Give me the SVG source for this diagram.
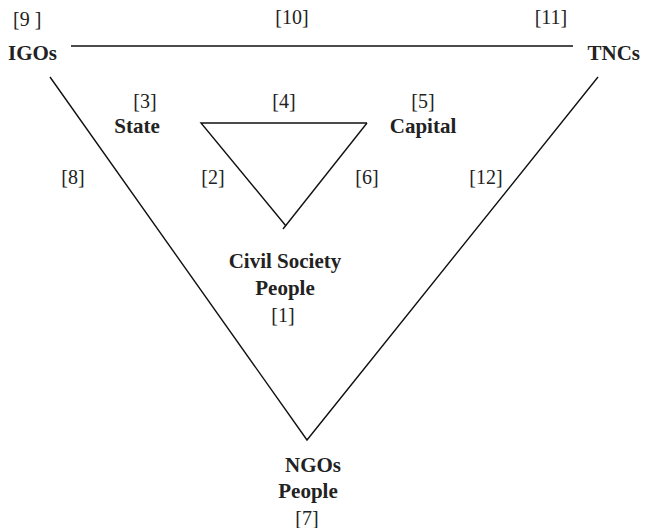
<svg xmlns="http://www.w3.org/2000/svg" width="645" height="528" viewBox="0 0 645 528">
<style>
.b{font-family:"Liberation Serif","Times New Roman",serif;font-weight:bold;font-size:21px;fill:#222}
.n{font-family:"Liberation Serif","Times New Roman",serif;font-size:20px;fill:#222}
.ln{stroke:#111;stroke-width:1.4;fill:none}
</style>
<rect width="645" height="528" fill="#fff"/>
<g id="connectors">
<line class="ln" x1="71" y1="46" x2="573" y2="46"/>
<polyline class="ln" points="50,77 307,440 598,77"/>
<polyline class="ln" points="367,123 201,123 286,226"/>
<line class="ln" x1="367" y1="123" x2="283" y2="229"/>
</g>
<g id="labels">
<text class="n" x="292" y="24" text-anchor="middle">[10]</text>
<text class="n" x="73" y="184" text-anchor="middle">[8]</text>
<text class="n" x="213" y="184" text-anchor="middle">[2]</text>
<text class="n" x="284" y="108" text-anchor="middle">[4]</text>
<text class="n" x="367" y="184" text-anchor="middle">[6]</text>
<text class="n" x="486" y="184" text-anchor="middle">[12]</text>
</g>
<g id="igos">
<text class="n" x="13" y="26">[9 ]</text>
<text class="b" x="8" y="60">IGOs</text>
</g>
<g id="tncs">
<text class="n" x="551" y="24" text-anchor="middle">[11]</text>
<text class="b" x="640" y="60" text-anchor="end">TNCs</text>
</g>
<g id="state">
<text class="n" x="145" y="108" text-anchor="middle">[3]</text>
<text class="b" x="137" y="133" text-anchor="middle">State</text>
</g>
<g id="capital">
<text class="n" x="423" y="108" text-anchor="middle">[5]</text>
<text class="b" x="423" y="133" text-anchor="middle">Capital</text>
</g>
<g id="civil">
<text class="b" x="285" y="268" text-anchor="middle">Civil Society</text>
<text class="b" x="285" y="295" text-anchor="middle">People</text>
<text class="n" x="283" y="322" text-anchor="middle">[1]</text>
</g>
<g id="ngos">
<text class="b" x="313" y="472" text-anchor="middle">NGOs</text>
<text class="b" x="308" y="498" text-anchor="middle">People</text>
<text class="n" x="307" y="525" text-anchor="middle">[7]</text>
</g>
</svg>
